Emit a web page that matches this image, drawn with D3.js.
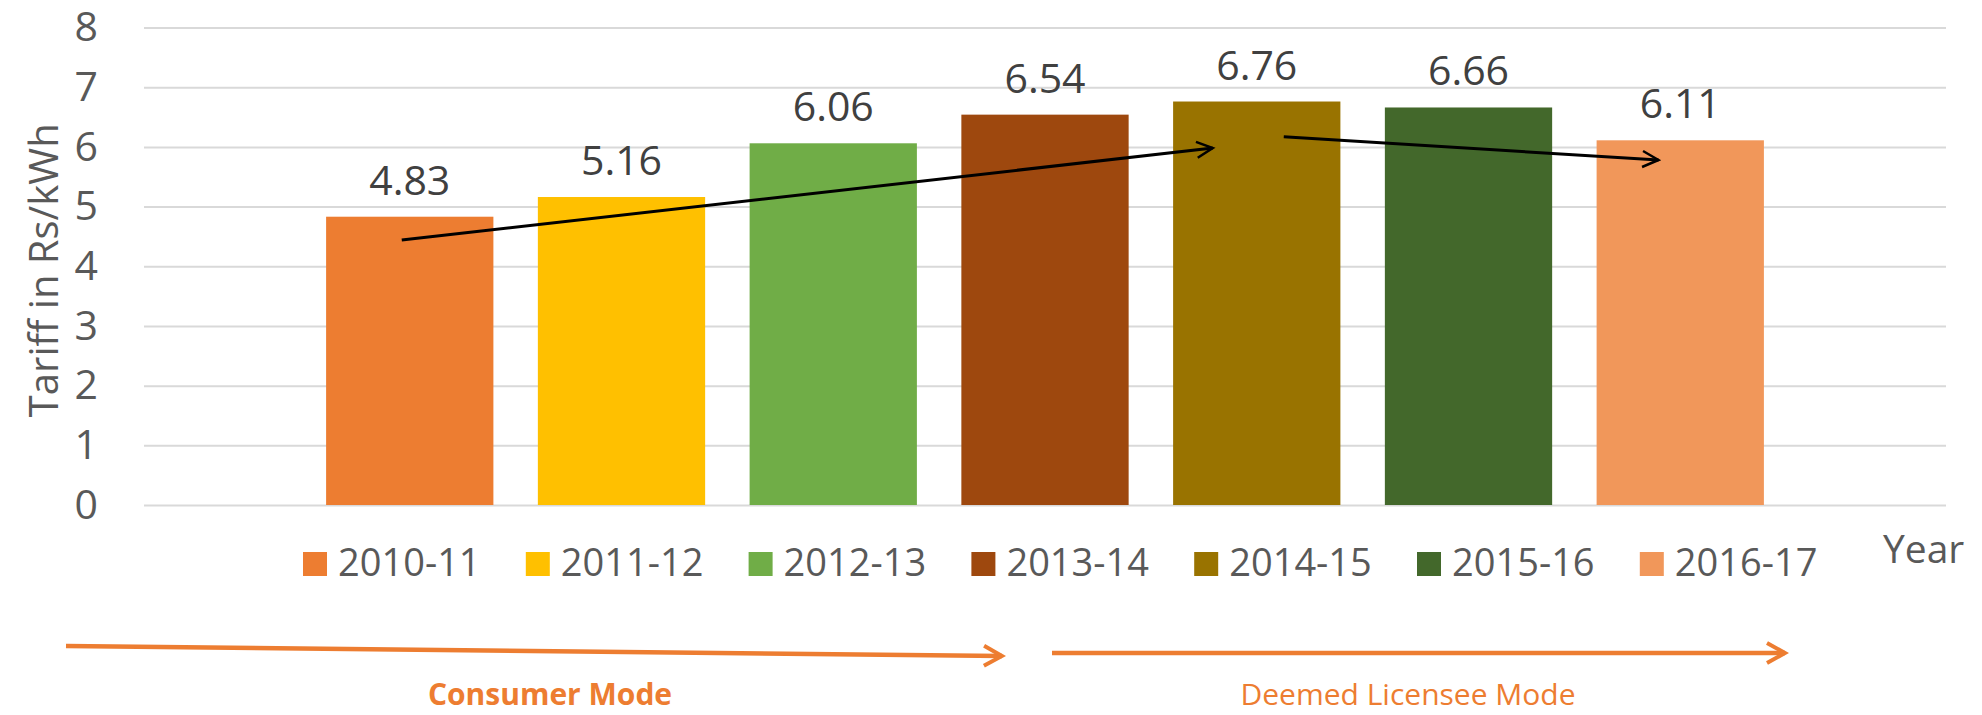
<!DOCTYPE html>
<html>
<head>
<meta charset="utf-8">
<script src="https://cdn.jsdelivr.net/npm/d3@7"></script>
<style>
  body { margin: 0; background: #fff; }
  text { font-family: "Open Sans", sans-serif; }
</style>
</head>
<body>
<div id="chart"></div>
<script>
// data
var years = ["2010-11", "2011-12", "2012-13", "2013-14", "2014-15", "2015-16", "2016-17"];
var tariff = [4.83, 5.16, 6.06, 6.54, 6.76, 6.66, 6.11];
var colors = ["#ED7D31", "#FFC000", "#70AD47", "#9E480E", "#997300", "#43682B", "#F1975A"];
var yTicks = [0, 1, 2, 3, 4, 5, 6, 7, 8];
var modes = ["Consumer Mode", "Deemed Licensee Mode"];

// trend arrows drawn over the bars: [fromYear, dx, fromValue, toYear, dx, toValue]
var trends = [
  ["2010-11", -8, 4.44, "2014-15", -44, 5.98],
  ["2014-15", 27, 6.17, "2015-16", 190, 5.78]
];

var W = 1982, H = 715;
var plotL = 144, plotR = 1946, plotT = 27.5, plotB = 505;

var svg = d3.select("#chart").append("svg")
    .attr("width", W)
    .attr("height", H);

var x = d3.scaleBand()
    .domain(years)
    .range([plotL, plotR])
    .paddingInner(0.21)
    .paddingOuter(0.86);

var y = d3.scaleLinear()
    .domain([0, 8])
    .range([plotB, plotT]);

// gridlines + tick labels
var yAxis = svg.append("g")
    .attr("transform", "translate(" + plotL + ",0)")
    .call(d3.axisLeft(y).tickValues(yTicks).tickSize(-(plotR - plotL)).tickPadding(46).tickFormat(d3.format("d")));
yAxis.select(".domain").remove();
yAxis.selectAll(".tick line").attr("stroke", "#D9D9D9").attr("stroke-width", 2);
yAxis.selectAll(".tick text")
    .attr("fill", "#595959")
    .style("font-size", "41px")
    .style("font-family", "'Open Sans', sans-serif");

// axis title
svg.append("text")
    .attr("transform", "translate(58," + ((plotT + plotB) / 2 + 4) + ") rotate(-90)")
    .attr("text-anchor", "middle")
    .attr("fill", "#595959")
    .style("font-size", "40px")
    .text("Tariff in Rs/kWh");

// bars
svg.selectAll("rect.bar")
    .data(years)
  .enter().append("rect")
    .attr("class", "bar")
    .attr("x", function(d) { return x(d); })
    .attr("width", x.bandwidth())
    .attr("y", function(d, i) { return y(tariff[i]); })
    .attr("height", function(d, i) { return y(0) - y(tariff[i]); })
    .attr("fill", function(d, i) { return colors[i]; });

// value labels
svg.selectAll("text.val")
    .data(years)
  .enter().append("text")
    .attr("class", "val")
    .attr("x", function(d) { return x(d) + x.bandwidth() / 2; })
    .attr("y", function(d, i) { return y(tariff[i]) - 22; })
    .attr("text-anchor", "middle")
    .attr("fill", "#404040")
    .style("font-size", "41px")
    .text(function(d, i) { return tariff[i].toFixed(2); });

// arrow markers
var defs = svg.append("defs");
defs.append("marker")
    .attr("id", "headBlack")
    .attr("viewBox", "0 0 22 22")
    .attr("refX", 19).attr("refY", 11)
    .attr("markerWidth", 22).attr("markerHeight", 22)
    .attr("markerUnits", "userSpaceOnUse")
    .attr("orient", "auto")
  .append("path")
    .attr("d", "M3,3 L19,11 L3,19")
    .attr("fill", "none")
    .attr("stroke", "#000")
    .attr("stroke-width", 2.5);
defs.append("marker")
    .attr("id", "headOrange")
    .attr("viewBox", "0 0 28 28")
    .attr("refX", 24).attr("refY", 14)
    .attr("markerWidth", 28).attr("markerHeight", 28)
    .attr("markerUnits", "userSpaceOnUse")
    .attr("orient", "auto")
  .append("path")
    .attr("d", "M6,4 L24,14 L6,24")
    .attr("fill", "none")
    .attr("stroke", "#ED7D31")
    .attr("stroke-width", 4);

// trend arrows
svg.selectAll("line.trend")
    .data(trends)
  .enter().append("line")
    .attr("class", "trend")
    .attr("x1", function(d) { return x(d[0]) + x.bandwidth() / 2 + d[1]; })
    .attr("y1", function(d) { return y(d[2]); })
    .attr("x2", function(d) { return x(d[3]) + x.bandwidth() / 2 + d[4]; })
    .attr("y2", function(d) { return y(d[5]); })
    .attr("stroke", "#000")
    .attr("stroke-width", 3)
    .attr("marker-end", "url(#headBlack)");

// legend
var legend = svg.append("g").attr("transform", "translate(303,552)");
var item = legend.selectAll("g")
    .data(years)
  .enter().append("g")
    .attr("transform", function(d, i) { return "translate(" + (i * 222.8) + ",0)"; });
item.append("rect")
    .attr("width", 24).attr("height", 24)
    .attr("fill", function(d, i) { return colors[i]; });
item.append("text")
    .attr("x", 35).attr("y", 24)
    .attr("fill", "#595959")
    .style("font-size", "38px")
    .text(function(d) { return d; });

svg.append("text")
    .attr("x", 1883).attr("y", 563)
    .attr("fill", "#595959")
    .style("font-size", "39px")
    .text("Year");

// mode arrows
var modeArrows = [
  {x1: 66, y1: 646, x2: 1002, y2: 656},
  {x1: 1052, y1: 653, x2: 1785, y2: 653}
];
svg.selectAll("line.mode")
    .data(modeArrows)
  .enter().append("line")
    .attr("class", "mode")
    .attr("x1", function(d) { return d.x1; })
    .attr("y1", function(d) { return d.y1; })
    .attr("x2", function(d) { return d.x2; })
    .attr("y2", function(d) { return d.y2; })
    .attr("stroke", "#ED7D31")
    .attr("stroke-width", 4.5)
    .attr("marker-end", "url(#headOrange)");

svg.append("text")
    .attr("x", 550).attr("y", 705)
    .attr("text-anchor", "middle")
    .attr("fill", "#ED7D31")
    .style("font-size", "30px")
    .style("font-weight", "bold")
    .text(modes[0]);
svg.append("text")
    .attr("x", 1408).attr("y", 705)
    .attr("text-anchor", "middle")
    .attr("fill", "#ED7D31")
    .style("font-size", "30px")
    .text(modes[1]);
</script>
</body>
</html>
